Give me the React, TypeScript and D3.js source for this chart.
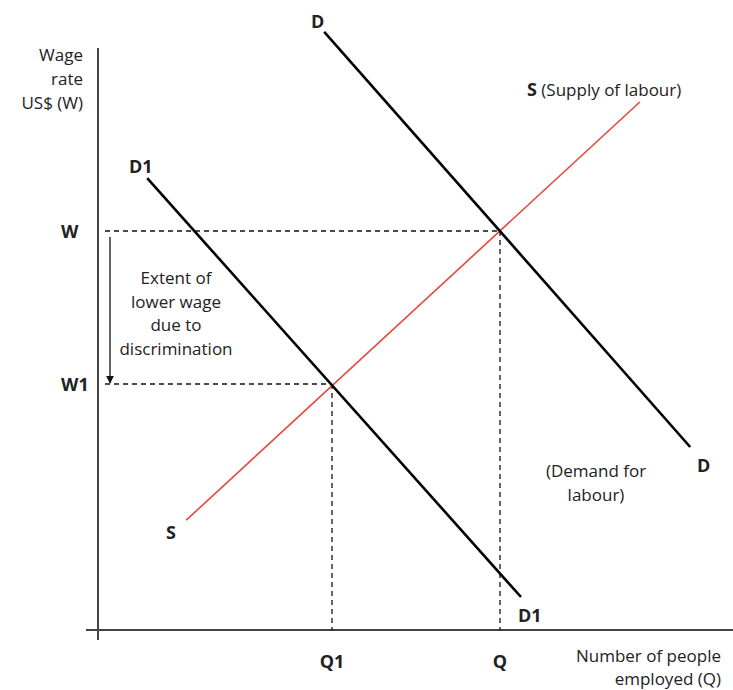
import React from "react";
import * as d3 from "d3";

// Economic units (0–100 on both axes)
const demandD = [
  { q: 37.7, w: 99.7 },
  { q: 98.7, w: 30.5 },
];
const demandD1 = [
  { q: 8.2, w: 75.3 },
  { q: 70.5, w: 5.5 },
];
const supplyS = [
  { q: 14.7, w: 18.3 },
  { q: 90.3, w: 88.0 },
];
const equilibria = [
  { name: "Q", wName: "W", q: 67, w: 66.5 },
  { name: "Q1", wName: "W1", q: 39, w: 41 },
];
const yAxisLabel = ["Wage", "rate", "US$ (W)"];
const xAxisLabel = ["Number of people", "employed (Q)"];
const annotation = ["Extent of", "lower wage", "due to", "discrimination"];
const demandNote = ["(Demand for", "labour)"];

const W = 733;
const H = 690;
const x = d3.scaleLinear().domain([0, 100]).range([98, 698]);
const y = d3.scaleLinear().domain([0, 100]).range([630, 30]);
const line = d3
  .line<{ q: number; w: number }>()
  .x((d) => x(d.q))
  .y((d) => y(d.w));

const FONT = "'Open Sans', 'Noto Sans', sans-serif";
const TXT = "#222";
const FS = 17;
const BFS = 18;

export default function App() {
  const eq = equilibria[0];
  const eq1 = equilibria[1];
  return (
    <div style={{ position: "absolute", left: 0, top: 0, width: W, height: H, overflow: "hidden" }}>
      <svg width={W} height={H} style={{ display: "block", background: "#fff" }} fontFamily={FONT}>
        <defs>
          <marker id="arr" viewBox="0 0 10 10" refX="9" refY="5" markerWidth="8" markerHeight="10" orient="auto" markerUnits="userSpaceOnUse">
            <path d="M0,0 L10,5 L0,10 z" fill="#111" />
          </marker>
        </defs>
        {/* axes */}
        <line x1={x(0)} x2={x(0)} y1={48} y2={y(0) + 10} stroke="#444" strokeWidth={2} />
        <line x1={x(0) - 12} x2={W} y1={y(0)} y2={y(0)} stroke="#444" strokeWidth={2} />
        {/* dashed guides */}
        {equilibria.map((e) => (
          <g key={e.name} stroke="#111" strokeWidth={1.3} strokeDasharray="5,4">
            <line x1={x(0) + 7} x2={x(e.q)} y1={y(e.w)} y2={y(e.w)} />
            <line x1={x(e.q)} x2={x(e.q)} y1={y(e.w)} y2={y(0)} />
          </g>
        ))}
        {/* curves */}
        <path d={line(supplyS) || ""} stroke="#e8473d" strokeWidth={1.6} fill="none" />
        <path d={line(demandD) || ""} stroke="#000" strokeWidth={2.6} fill="none" />
        <path d={line(demandD1) || ""} stroke="#000" strokeWidth={2.6} fill="none" />
        {/* arrow */}
        <line x1={x(0) + 12} x2={x(0) + 12} y1={y(eq.w) + 6} y2={y(eq1.w) - 1} stroke="#111" strokeWidth={1.3} markerEnd="url(#arr)" />
        {/* y axis label */}
        <g fill={TXT} fontSize={FS} textAnchor="end">
          {yAxisLabel.map((t, i) => (
            <text key={t} x={83} y={61 + i * 24}>{t}</text>
          ))}
        </g>
        {/* x axis label */}
        <g fill={TXT} fontSize={FS} textAnchor="end">
          {xAxisLabel.map((t, i) => (
            <text key={t} x={721} y={662 + i * 23}>{t}</text>
          ))}
        </g>
        {/* W / Q labels */}
        <g fill={TXT} fontSize={BFS} fontWeight="bold">
          {equilibria.map((e) => (
            <React.Fragment key={e.name}>
              <text x={61} y={y(e.w) + 7}>{e.wName}</text>
              <text x={x(e.q)} y={668} textAnchor="middle">{e.name}</text>
            </React.Fragment>
          ))}
          <text x={311} y={28}>D</text>
          <text x={697} y={472}>D</text>
          <text x={129} y={173}>D1</text>
          <text x={518} y={622}>D1</text>
          <text x={166} y={539}>S</text>
        </g>
        <text x={527} y={96} fontSize={FS} fill={TXT}>
          <tspan fontWeight="bold" fontSize={BFS}>S</tspan>
          <tspan> (Supply of labour)</tspan>
        </text>
        {/* annotation */}
        <g fill={TXT} fontSize={FS} textAnchor="middle">
          {annotation.map((t, i) => (
            <text key={t} x={176} y={284 + i * 23.5}>{t}</text>
          ))}
          {demandNote.map((t, i) => (
            <text key={t} x={596} y={477 + i * 24}>{t}</text>
          ))}
        </g>
      </svg>
    </div>
  );
}
